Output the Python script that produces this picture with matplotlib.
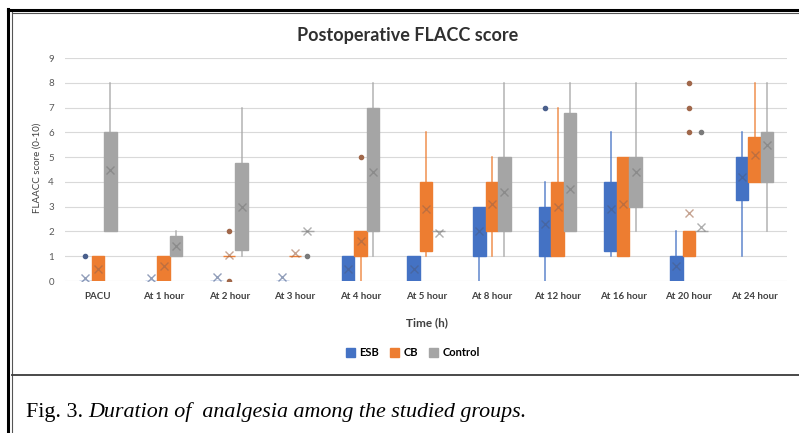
import matplotlib
matplotlib.use("Agg")
import matplotlib.pyplot as plt
from matplotlib.lines import Line2D
from matplotlib.patches import Patch

# ---- data ---------------------------------------------------------------
categories = ["PACU", "At 1 hour", "At 2 hour", "At 3 hour", "At 4 hour", "At 5 hour",
              "At 8 hour", "At 12 hour", "At 16 hour", "At 20 hour", "At 24 hour"]
groups = ["ESB", "CB", "Control"]

esb_q1 = [0, 0, 0, 0, 0, 0, 1, 1, 1.2, 0, 3.25]
esb_q3 = [0, 0, 0, 0, 1, 1, 3, 3, 4, 1, 5]
esb_lo = [0, 0, 0, 0, 0, 0, 0, 0, 1, 0, 1]
esb_hi = [0, 0, 0, 0, 1, 1, 3, 4, 6, 2, 6]
esb_med = [0, 0, 0, 0, 0, 0, 2, 2, 3, 0, 4]
esb_mean = [0.12, 0.12, 0.15, 0.15, 0.5, 0.5, 2.0, 2.3, 2.9, 0.6, 4.2]
esb_out = [[1], [], [], [], [], [], [], [7], [], [], []]

cb_q1 = [0, 0, 1, 1, 1, 1.2, 2, 1, 1, 1, 4]
cb_q3 = [1, 1, 1, 1, 2, 4, 4, 4, 5, 2, 5.8]
cb_lo = [0, 0, 1, 1, 0, 1, 1, 1, 1, 1, 4]
cb_hi = [1, 1, 1, 1, 2, 6, 5, 7, 5, 2, 8]
cb_med = [0.5, 0.5, 1, 1, 1.5, 3, 3, 3, 3, 1.5, 5]
cb_mean = [0.5, 0.6, 1.05, 1.15, 1.6, 2.9, 3.1, 3.0, 3.1, 2.75, 5.1]
cb_out = [[], [], [0, 2], [], [5], [], [], [], [], [6, 7, 8], []]

ctl_q1 = [2, 1, 1.25, 2, 2, 2, 2, 2, 3, 2, 4]
ctl_q3 = [6, 1.8, 4.75, 2, 7, 2, 5, 6.8, 5, 2, 6]
ctl_lo = [2, 1, 1, 2, 1, 2, 1, 2, 2, 2, 2]
ctl_hi = [8, 2, 7, 2, 8, 2, 8, 8, 8, 2, 8]
ctl_med = [4, 1.5, 3, 2, 4, 2, 3.5, 3.5, 4, 2, 5.5]
ctl_mean = [4.5, 1.4, 3.0, 2.0, 4.4, 1.95, 3.6, 3.7, 4.4, 2.2, 5.5]
ctl_out = [[], [], [], [1], [], [], [], [], [], [6], []]

yticks = list(range(0, 10))

colors = ["#4472C4", "#ED7D31", "#A5A5A5"]
dark = ["#4A5F8C", "#A0674A", "#7A7A7A"]

series = [
    (esb_q1, esb_q3, esb_lo, esb_hi, esb_med, esb_mean, esb_out),
    (cb_q1, cb_q3, cb_lo, cb_hi, cb_med, cb_mean, cb_out),
    (ctl_q1, ctl_q3, ctl_lo, ctl_hi, ctl_med, ctl_mean, ctl_out),
]

fig = plt.figure(figsize=(7.99, 4.33), dpi=100)
ax = fig.add_axes([0.0814, 0.351, 0.904, 0.515])

bw = 0.19
for k, (q1, q3, lo, hi, med, mean, out) in enumerate(series):
    stats = []
    for i in range(len(categories)):
        stats.append({"q1": q1[i], "q3": q3[i], "whislo": lo[i], "whishi": hi[i],
                      "med": med[i], "mean": mean[i], "fliers": out[i]})
    pos = [i + (k - 1) * bw for i in range(len(categories))]
    ax.bxp(stats, positions=pos, widths=bw, patch_artist=True, showmeans=True,
           showcaps=False,
           boxprops=dict(facecolor=colors[k], edgecolor=colors[k], linewidth=1.0),
           whiskerprops=dict(color=colors[k], linewidth=1.1, alpha=0.85),
           medianprops=dict(linewidth=0),
           meanprops=dict(marker="x", markeredgecolor=dark[k], markersize=6,
                          markeredgewidth=1.0, alpha=0.6),
           flierprops=dict(marker="o", markerfacecolor=dark[k], markeredgecolor=dark[k],
                           markersize=3))

ax.set_xlim(-0.5, len(categories) - 0.5)
ax.set_ylim(0, 9)
ax.set_yticks(yticks)
ax.set_xticks(range(len(categories)))
ax.set_xticklabels(categories, fontsize=7, fontweight="bold", family="Lato", color="#404040")
for t in ax.get_yticklabels():
    t.set_fontsize(7)
    t.set_color("#595959")
    t.set_family("Lato")
ax.tick_params(length=0, pad=8)
ax.grid(axis="y", color="#D9D9D9", linewidth=0.8)
ax.set_axisbelow(True)
for s in ax.spines.values():
    s.set_visible(False)

fig.text(408 / 799, 1 - 35 / 433, "Postoperative FLACC score", ha="center", va="center",
         fontsize=13, fontweight="bold", family="Lato", color="#303030")
fig.text(37 / 799, 1 - 168 / 433, "FLAACC score (0-10)", rotation=90, ha="center", va="center",
         fontsize=7, family="Lato", color="#404040")
fig.text(427 / 799, 1 - 323 / 433, "Time (h)", ha="center", va="center",
         fontsize=8.5, fontweight="bold", family="Lato", color="#404040")

handles = [Patch(facecolor=c, edgecolor=c, label=g) for c, g in zip(colors, groups)]
fig.legend(handles=handles, loc="center", bbox_to_anchor=(413 / 799, 1 - 353 / 433), ncol=3,
           frameon=False, handlelength=0.8, handleheight=0.8, handletextpad=0.4,
           columnspacing=1.0, prop={"family": "Lato", "weight": "bold", "size": 8})

# frame around the figure, as in the journal page
W, H = 799, 433
fig.add_artist(Line2D([8 / W, 1], [1 - 9.5 / H] * 2, color="black", lw=2.2))
fig.add_artist(Line2D([11.5 / W, 1], [1 - 12.5 / H] * 2, color="#555555", lw=0.8))
fig.add_artist(Line2D([8 / W] * 2, [0, 1 - 8.5 / H], color="black", lw=2.2))
fig.add_artist(Line2D([11.5 / W] * 2, [0, 1 - 12 / H], color="#555555", lw=0.8))
fig.add_artist(Line2D([11.5 / W, 1], [1 - 374.5 / H] * 2, color="#3a3a3a", lw=1.3))

# caption: "Fig. 3." upright, the rest italic
t1 = fig.text(26 / W, 1 - 412 / H, "Fig. 3. ", ha="left", va="center",
              fontsize=15.8, family="Liberation Serif", color="black")
fig.canvas.draw()
bb = t1.get_window_extent()
fig.text(bb.x1 / W, 1 - 412 / H, "Duration of  analgesia among the studied groups.",
         ha="left", va="center", fontsize=15.8, family="Liberation Serif", style="italic",
         color="black")

fig.savefig("out.png", dpi=100)
